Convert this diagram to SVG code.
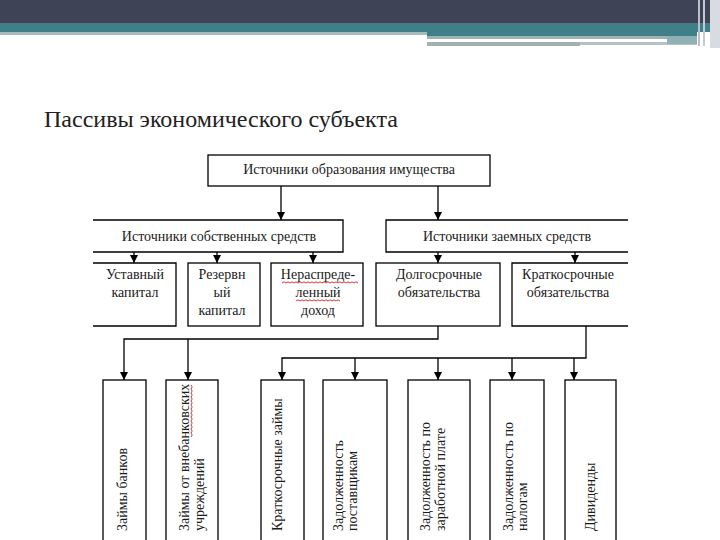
<svg xmlns="http://www.w3.org/2000/svg" width="720" height="540" viewBox="0 0 720 540">
<defs>
<style>
.box{fill:#fff;stroke:#000;stroke-width:1.3}
.edge{fill:none;stroke:#000;stroke-width:1.3}
.ln{fill:none;stroke:#000;stroke-width:1.3}
text{font-family:"Liberation Serif","Times New Roman",serif;fill:#1a1a1a}
.t{font-size:14px;text-anchor:middle}
.v{font-size:14px;text-anchor:start}
.title{font-size:24px;fill:#222}
.spell{fill:none;stroke:#d02020;stroke-width:0.9}
</style>
<marker id="ah" viewBox="0 0 10 10" refX="10" refY="5" markerWidth="8" markerHeight="8" markerUnits="userSpaceOnUse" orient="auto">
<path d="M0,0 L10,5 L0,10 z" fill="#000"/>
</marker>
</defs>
<rect width="720" height="540" fill="#fff"/>
<g id="banner">
<rect x="0" y="0" width="720" height="23" fill="#3e4455"/>
<rect x="0" y="20" width="720" height="3" fill="#463f57"/>
<rect x="0" y="23" width="720" height="9" fill="#3f7f88"/>
<rect x="0" y="32" width="427" height="3" fill="#a8b9bc"/>
<rect x="427" y="32" width="270" height="4" fill="#3f7f88"/>
<rect x="427" y="36" width="240" height="3" fill="#9fb3b5"/>
<rect x="427" y="42" width="153" height="4" fill="#a2b2b3"/>
<rect x="580" y="42" width="117" height="3" fill="#b4c3c5"/>
<rect x="667" y="36" width="30" height="8" fill="#8fb0b4"/>
<rect x="698" y="0" width="2" height="46" fill="#b8c0cc"/>
<rect x="703" y="0" width="2" height="46" fill="#c4cad4"/>
<rect x="710" y="0" width="10" height="48" fill="#d8dce2"/>
</g>
<text class="title" x="44" y="127">Пассивы экономического субъекта</text>
<g id="connectors">
<path class="edge" d="M281,186 V220" marker-end="url(#ah)"/>
<path class="edge" d="M438,186 V220" marker-end="url(#ah)"/>
<path class="edge" d="M134,252 V263" marker-end="url(#ah)"/>
<path class="edge" d="M217,252 V263" marker-end="url(#ah)"/>
<path class="edge" d="M313,252 V263" marker-end="url(#ah)"/>
<path class="edge" d="M438,252 V263" marker-end="url(#ah)"/>
<path class="edge" d="M575,252 V263" marker-end="url(#ah)"/>
<path class="edge" d="M438,326 V339 H124 V380" marker-end="url(#ah)"/>
<path class="edge" d="M188,339 V380" marker-end="url(#ah)"/>
<path class="edge" d="M586,326 V358 H282 V380" marker-end="url(#ah)"/>
<path class="edge" d="M355,358 V380" marker-end="url(#ah)"/>
<path class="edge" d="M438,358 V380" marker-end="url(#ah)"/>
<path class="edge" d="M512,358 V380" marker-end="url(#ah)"/>
<path class="edge" d="M574,358 V380" marker-end="url(#ah)"/>
</g>
<g id="n-root">
<rect class="box" x="208" y="155" width="282" height="31"/>
<text class="t" x="349" y="174">Источники образования имущества</text>
</g>
<g id="n-own">
<path class="ln" d="M93,220 H343 V252 H93"/>
<text class="t" x="219" y="241">Источники собственных средств</text>
</g>
<g id="n-borrowed">
<path class="ln" d="M628,220 H386 V252 H628"/>
<text class="t" x="507" y="241">Источники заемных средств</text>
</g>
<g id="n-ustav">
<path class="ln" d="M93,263 H176 V326 H93"/>
<text class="t" x="135" y="279">Уставный</text>
<text class="t" x="135" y="297">капитал</text>
</g>
<g id="n-reserv">
<rect class="box" x="188" y="263" width="72" height="63"/>
<text class="t" x="222" y="279">Резервн</text>
<text class="t" x="222" y="297">ый</text>
<text class="t" x="222" y="315">капитал</text>
</g>
<g id="n-neraspr">
<rect class="box" x="271" y="263" width="92" height="63"/>
<text class="t" x="318" y="279">Нераспреде-</text>
<text class="t" x="318" y="297">ленный</text>
<text class="t" x="318" y="315">доход</text>
<path class="spell" d="M282,283 l2,-1.2 l2,1.2 l2,-1.2 l2,1.2 l2,-1.2 l2,1.2 l2,-1.2 l2,1.2 l2,-1.2 l2,1.2 l2,-1.2 l2,1.2 l2,-1.2 l2,1.2 l2,-1.2 l2,1.2 l2,-1.2 l2,1.2 l2,-1.2 l2,1.2 l2,-1.2 l2,1.2 l2,-1.2 l2,1.2 l2,-1.2 l2,1.2 l2,-1.2 l2,1.2 l2,-1.2 l2,1.2 l2,-1.2 l2,1.2 l2,-1.2 l2,1.2 l2,-1.2 l2,1.2 l2,-1.2 l2,1.2"/>
<path class="spell" d="M296,301 l2,-1.2 l2,1.2 l2,-1.2 l2,1.2 l2,-1.2 l2,1.2 l2,-1.2 l2,1.2 l2,-1.2 l2,1.2 l2,-1.2 l2,1.2 l2,-1.2 l2,1.2 l2,-1.2 l2,1.2 l2,-1.2 l2,1.2 l2,-1.2 l2,1.2 l2,-1.2 l2,1.2"/>
</g>
<g id="n-long">
<rect class="box" x="376" y="263" width="124" height="63"/>
<text class="t" x="439" y="279">Долгосрочные</text>
<text class="t" x="439" y="297">обязательства</text>
</g>
<g id="n-short">
<path class="ln" d="M628,263 H512 V326 H628"/>
<text class="t" x="568" y="279">Краткосрочные</text>
<text class="t" x="568" y="297">обязательства</text>
</g>
<g id="n-bank">
<rect class="box" x="103" y="380" width="43" height="200"/>
<text class="v" x="127" y="531" transform="rotate(-90 127 531)">Займы банков</text>
</g>
<g id="n-nonbank">
<rect class="box" x="166" y="380" width="52" height="200"/>
<text class="v" x="189" y="531" transform="rotate(-90 189 531)">Займы от внебанковских</text>
<text class="v" x="204" y="531" transform="rotate(-90 204 531)">учреждений</text>
<path class="spell" d="M191,437 l1.2,-2 l-1.2,-2 l1.2,-2 l-1.2,-2 l1.2,-2 l-1.2,-2 l1.2,-2 l-1.2,-2 l1.2,-2 l-1.2,-2 l1.2,-2 l-1.2,-2 l1.2,-2 l-1.2,-2 l1.2,-2 l-1.2,-2 l1.2,-2 l-1.2,-2 l1.2,-2 l-1.2,-2 l1.2,-2 l-1.2,-2 l1.2,-2 l-1.2,-2 l1.2,-2 l-1.2,-2"/>
</g>
<g id="n-shortloans">
<rect class="box" x="261" y="380" width="43" height="200"/>
<text class="v" x="282" y="531" transform="rotate(-90 282 531)">Краткосрочные займы</text>
</g>
<g id="n-suppliers">
<rect class="box" x="323" y="380" width="64" height="200"/>
<text class="v" x="343" y="531" transform="rotate(-90 343 531)">Задолженность</text>
<text class="v" x="357" y="531" transform="rotate(-90 357 531)">поставщикам</text>
</g>
<g id="n-wages">
<rect class="box" x="408" y="380" width="62" height="200"/>
<text class="v" x="430" y="531" transform="rotate(-90 430 531)">Задолженность по</text>
<text class="v" x="445" y="531" transform="rotate(-90 445 531)">заработной плате</text>
</g>
<g id="n-taxes">
<rect class="box" x="490" y="380" width="54" height="200"/>
<text class="v" x="513" y="531" transform="rotate(-90 513 531)">Задолженность по</text>
<text class="v" x="527" y="531" transform="rotate(-90 527 531)">налогам</text>
</g>
<g id="n-dividends">
<rect class="box" x="565" y="380" width="51" height="200"/>
<text class="v" x="595" y="531" transform="rotate(-90 595 531)">Дивиденды</text>
</g>
</svg>
